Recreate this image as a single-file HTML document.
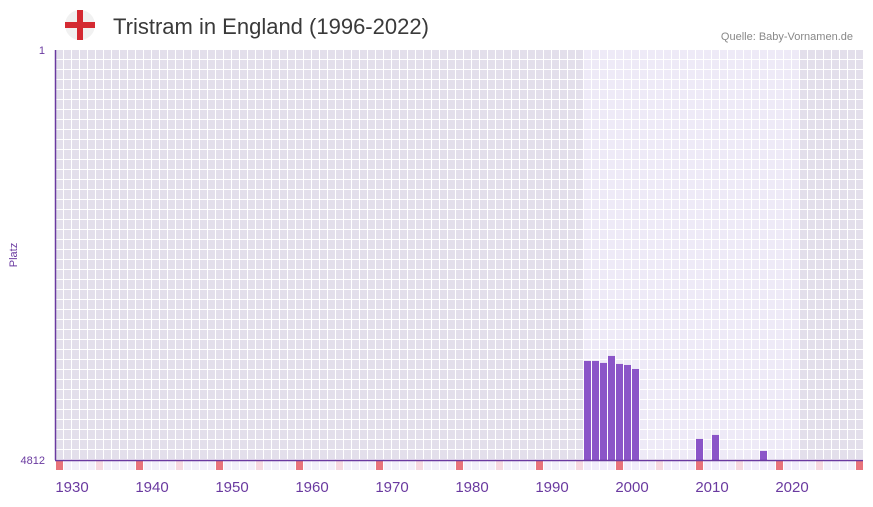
<!DOCTYPE html>
<html><head><meta charset="utf-8"><style>
body{margin:0;width:873px;height:502px;background:#fff;font-family:"Liberation Sans",sans-serif;overflow:hidden}
</style></head><body>
<svg width="873" height="502" xmlns="http://www.w3.org/2000/svg">
<g>
<circle cx="80" cy="25" r="15" fill="#f1f1f1"/>
<rect x="65" y="22" width="30" height="6" fill="#d42a32"/>
<rect x="77" y="10" width="6" height="30" fill="#d42a32"/>
</g>
<text x="113" y="34" font-size="22" fill="#3a3a3a">Tristram in England (1996-2022)</text>
<text x="853" y="40" font-size="11" fill="#888" text-anchor="end">Quelle: Baby-Vornamen.de</text>
<g id="grid"></g>
<g id="bars"></g>
<line x1="55.5" y1="50" x2="55.5" y2="460" stroke="#6a3aa0" stroke-width="1.5"/>
<line x1="55" y1="460.5" x2="863" y2="460.5" stroke="#6a3aa0" stroke-width="1.5"/>
<text x="45" y="54" font-size="11" fill="#6a3aa0" text-anchor="end">1</text>
<text x="45" y="464" font-size="11" fill="#6a3aa0" text-anchor="end">4812</text>
<text transform="translate(17,255) rotate(-90)" font-size="11" fill="#6a3aa0" text-anchor="middle">Platz</text>
<g id="xlabels"></g>
</svg>
<script>
const years=[1994,1995,1996,1997,1998,1999,2000,2008,2010,2016];
const ranks=[3650,3650,3673,3591,3685,3697,3744,4565,4518,4706];
const tickYears=[1930,1940,1950,1960,1970,1980,1990,2000,2010,2020];
const NS="http://www.w3.org/2000/svg";
const X0=56,CW=8,FIRST=1928,NC=101,Y0=50,Y1=460,RMAX=4812;
const xOf=y=>X0+(y-FIRST)*CW;
const yOf=r=>Y0+(r-1)/(RMAX-1)*(Y1-Y0);
function mk(t,a,p){const e=document.createElementNS(NS,t);for(const k in a)e.setAttribute(k,a[k]);p.appendChild(e);return e;}
const g=document.getElementById('grid');
for(let c=0;c<NC;c++){
 const x=X0+c*CW;const light=(x>=584&&x<800);
 for(let r=0;r<41;r++){
  const cell=mk('rect',{x:x,y:Y0+r*10,width:CW-1,height:9,fill:light?'#eeeaf7':'#e3dfeb'},g);
  
  
 }
 let f=light?'#f1ecfb':'#f2effa';
 if(c%10===0)f='#e8737b';else if(c%10===5)f='#f6d8e0';
 const s=mk('rect',{x:x,y:461,width:CW-1,height:9,fill:f},g);
 
 
}
const b=document.getElementById('bars');
years.forEach((y,i)=>{
 const top=yOf(ranks[i]);
 const r=mk('rect',{x:xOf(y),y:top,width:CW-1,height:Y1-top,fill:'#8b55c8'},b);
 
 
});
const xl=document.getElementById('xlabels');
tickYears.forEach(y=>{
 const t=mk('text',{x:X0+(y-FIRST)*CW,y:492,'font-size':15,fill:'#6a3aa0','text-anchor':'middle'},xl);
 t.textContent=y;
 
 
});
</script>
</body></html>
